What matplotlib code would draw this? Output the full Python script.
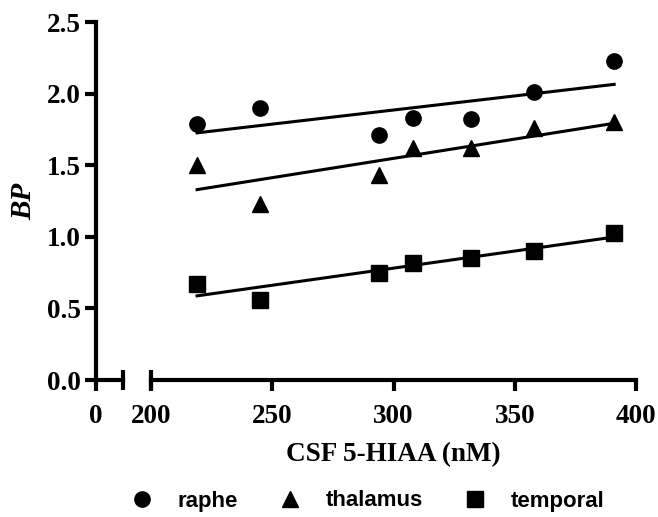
import numpy as np
import matplotlib
matplotlib.use("Agg")
import matplotlib.pyplot as plt

# CSF 5-HIAA (nM) per subject
csf = [219, 245, 294, 308, 332, 358, 391]
# binding potential per region
raphe = [1.79, 1.90, 1.71, 1.83, 1.82, 2.01, 2.23]
thalamus = [1.50, 1.23, 1.43, 1.62, 1.62, 1.76, 1.80]
temporal = [0.67, 0.56, 0.75, 0.82, 0.85, 0.90, 1.03]

yticks = [0.0, 0.5, 1.0, 1.5, 2.0, 2.5]
xticks = [200, 250, 300, 350, 400]

W, H = 658, 517
fig = plt.figure(figsize=(W / 100, H / 100), dpi=100)

lw = 3.0
tick_font = dict(family="Liberation Serif", weight="bold", size=19.5)

# axes positions in pixels (left, right, bottom, top from figure top)
y_bot, y_top = 380, 22
axL = fig.add_axes([96 / W, (H - y_bot) / H, 27 / W, (y_bot - y_top) / H])
axR = fig.add_axes([151 / W, (H - y_bot) / H, 485 / W, (y_bot - y_top) / H], sharey=axL)

for ax in (axL, axR):
    ax.spines["top"].set_visible(False)
    ax.spines["right"].set_visible(False)
    ax.spines["bottom"].set_linewidth(lw)
    ax.spines["left"].set_linewidth(lw)
    ax.tick_params(width=lw, length=8, direction="out")
    ax.tick_params(axis="x", pad=9)
    ax.tick_params(axis="y", pad=3)
    ax.set_ylim(0, 2.5)

# left stub of the broken x axis
axL.set_xlim(0, 11)
axL.set_xticks([0])
axL.set_yticks(yticks)
axL.set_yticklabels([f"{v:.1f}" for v in yticks], fontdict=tick_font)
axL.set_xticklabels(["0"], fontdict=tick_font)
axL.plot([1], [0], transform=axL.transAxes, marker="|", ms=15, mew=lw,
         color="black", clip_on=False)

# main part of the x axis
axR.spines["left"].set_visible(False)
axR.tick_params(axis="y", left=False, labelleft=False)
axR.set_xlim(200, 400)
axR.set_xticks(xticks)
axR.set_xticklabels([str(v) for v in xticks], fontdict=tick_font)
axR.plot([0], [0], transform=axR.transAxes, marker="|", ms=15, mew=lw,
         color="black", clip_on=False)

axL.set_ylabel("BP", fontsize=21, family="Liberation Serif", weight="bold",
               style="italic", labelpad=7)

series = [(raphe, "o", "raphe", 11), (thalamus, "^", "thalamus", 12),
          (temporal, "s", "temporal", 11)]
x = np.array(csf)
for vals, mk, lab, ms in series:
    axR.plot(x, vals, linestyle="none", marker=mk, ms=ms, color="black",
             label=lab, clip_on=False)
    k, b = np.polyfit(x, vals, 1)
    xs = np.array([x.min(), x.max()])
    axR.plot(xs, k * xs + b, color="black", lw=2.2)

fig.text(0.5 * (151 + 636) / W, 1 - 455 / H, "CSF 5-HIAA (nM)", ha="center",
         va="center", family="Liberation Serif", weight="bold", fontsize=19.5)

handles, labels = axR.get_legend_handles_labels()
fig.legend(handles, labels, loc="center", bbox_to_anchor=(368 / W, 1 - 501 / H),
           ncol=3, frameon=False, handletextpad=1.1, columnspacing=1.85,
           handlelength=1.0, borderpad=0.2,
           prop=dict(family="Liberation Sans", weight="bold", size=16))

fig.savefig("out.png", dpi=100)
